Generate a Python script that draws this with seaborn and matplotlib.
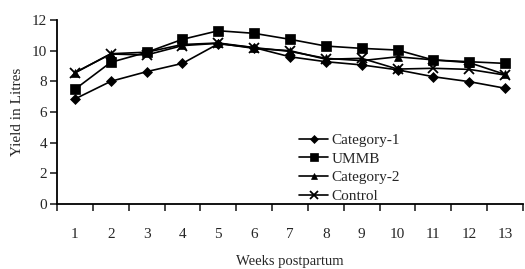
import matplotlib
matplotlib.use("Agg")
import matplotlib.pyplot as plt
import seaborn as sns
import pandas as pd
from matplotlib.ticker import FixedLocator

weeks = list(range(1, 14))
category_1 = [6.85, 8.0, 8.63, 9.17, 10.45, 10.2, 9.6, 9.28, 9.07, 8.75, 8.3, 7.98, 7.55]
ummb = [7.48, 9.24, 9.89, 10.74, 11.3, 11.13, 10.74, 10.3, 10.15, 10.04, 9.39, 9.28, 9.17]
category_2 = [8.55, 9.8, 9.9, 10.4, 10.5, 10.2, 9.95, 9.5, 9.35, 9.6, 9.4, 9.22, 8.45]
control = [8.57, 9.78, 9.72, 10.33, 10.48, 10.15, 10.0, 9.44, 9.5, 8.8, 8.85, 8.78, 8.41]
series_names = ["Category-1", "UMMB", "Category-2", "Control"]
markers = ["D", "s", "^", "x"]

df = pd.concat([
    pd.DataFrame({"week": weeks, "yield": vals, "series": name})
    for name, vals in zip(series_names, [category_1, ummb, category_2, control])
])

sns.set_style("white")
plt.rcParams["font.family"] = ["Liberation Serif", "DejaVu Serif"]

fig = plt.figure(figsize=(5.25, 2.69), dpi=100)
ax = fig.add_axes([57/525, (269-204)/269, (523-57)/525, (204-20)/269])

msize = {"D": 5, "s": 6.5, "^": 5.5, "x": 7}
for name, m in zip(series_names, markers):
    sub = df[df["series"] == name]
    sns.lineplot(data=sub, x="week", y="yield", ax=ax, color="black", linewidth=1.2,
                 marker=m, markersize=msize[m], markeredgecolor="black",
                 markerfacecolor="black", markeredgewidth=1.3 if m == "x" else 0.5,
                 label=name)

ax.set_xlim(0.5, 13.5)
ax.set_ylim(0, 12)
ax.set_yticks([0, 2, 4, 6, 8, 10, 12])
ax.set_yticklabels(["0", "2", "4", "6", "8", "10", "12"], fontsize=11)
ax.set_xticks(weeks)
ax.set_xticklabels([str(w) for w in weeks], fontsize=11)
ax.xaxis.set_minor_locator(FixedLocator([w + 0.5 for w in range(0, 14)]))
ax.tick_params(axis="x", which="major", length=0, pad=17)
ax.tick_params(axis="x", which="minor", length=5, width=1.2, direction="out", bottom=True)
ax.tick_params(axis="y", which="major", length=5, width=1.2, direction="out", left=True, pad=2)

for s in ["top", "right"]:
    ax.spines[s].set_visible(False)
for s in ["left", "bottom"]:
    ax.spines[s].set_color("black")
    ax.spines[s].set_linewidth(1.3)

ax.set_xlabel("Weeks postpartum", fontsize=10.5, labelpad=10)
ax.set_ylabel("Yield in Litres", fontsize=11, labelpad=6)
ax.grid(False)

leg = ax.legend(loc="upper left", bbox_to_anchor=(0.52, 0.385), frameon=False,
                fontsize=11, handlelength=1.9, handletextpad=0.2, labelspacing=0.33,
                borderpad=0, borderaxespad=0, markerscale=0.85)

fig.savefig("out.png", dpi=100)
